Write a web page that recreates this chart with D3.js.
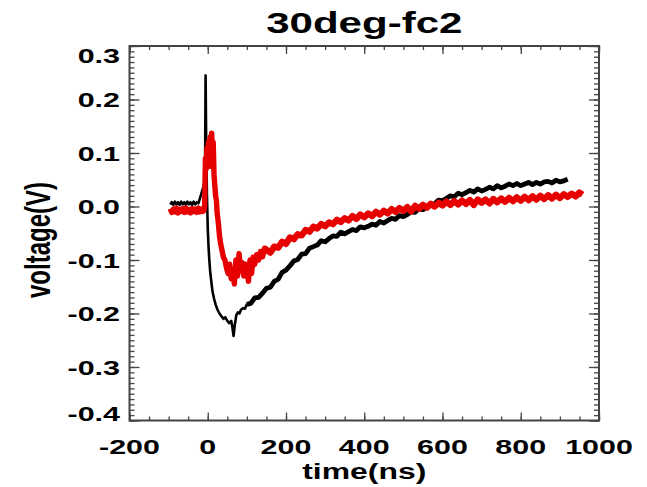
<!DOCTYPE html>
<html>
<head>
<meta charset="utf-8">
<script src="https://cdn.jsdelivr.net/npm/d3@7"></script>
<style>
  html, body { margin: 0; padding: 0; background: #fff; }
  text { font-family: "Liberation Sans", Arial, Helvetica, sans-serif; font-weight: bold; fill: #000; }
</style>
</head>
<body>
<div id="chart"></div>
<script>
// --- data ---
const titleText = '30deg-fc2';
const xLabelText = 'time(ns)';
const yLabelText = 'voltage(V)';

const xTickLabels = [-200, 0, 200, 400, 600, 800, 1000];
const yTickLabels = [0.3, 0.2, 0.1, 0.0, -0.1, -0.2, -0.3, -0.4];

// black trace
const blackTime = [-96, -92, -88, -84, -80, -76, -72, -68, -64, -60, -56, -52, -48, -44, -40, -36, -32, -28, -24, -20, -16, -12, -9, -7, -5.5, -4, -2, 0, 2, 4, 6, 9, 12, 16, 20, 25, 30, 35, 40, 45, 50, 55, 60, 63, 66, 69, 73, 77, 81, 85, 90, 95,
  100, 110, 120, 130, 140, 150, 160, 170, 180, 190, 200, 210, 220, 230, 240, 250, 260, 270, 280, 290,
  300, 310, 320, 330, 340, 350, 360, 370, 380, 390, 400, 410, 420, 430, 440, 450, 460, 470, 480, 490,
  500, 510, 520, 530, 540, 550, 560, 570, 580, 590, 600, 610, 620, 630, 640, 650, 660, 670, 680, 690,
  700, 710, 720, 730, 740, 750, 760, 770, 780, 790, 800, 810, 820, 830, 840, 850, 860, 870, 880, 890,
  900, 910, 920];
const blackVolt = [0.004, 0.008, 0.003, 0.009, 0.004, 0.008, 0.003, 0.009, 0.004, 0.008, 0.003, 0.009, 0.004, 0.008, 0.003, 0.009, 0.004, 0.008, 0.006, 0.015, 0.025, 0.035, 0.045, 0.055, 0.245, 0.12, 0.02, -0.04, -0.075, -0.1, -0.12, -0.14, -0.158, -0.172, -0.183, -0.193, -0.2, -0.205, -0.21, -0.207, -0.214, -0.218, -0.214, -0.226, -0.242, -0.222, -0.203, -0.198, -0.2, -0.193, -0.19, -0.191,
  -0.183, -0.181, -0.171, -0.17, -0.162, -0.153, -0.151, -0.14, -0.136, -0.123, -0.119, -0.111, -0.102, -0.099, -0.089, -0.088, -0.078, -0.075, -0.072, -0.064,
  -0.066, -0.06, -0.055, -0.056, -0.048, -0.051, -0.047, -0.043, -0.045, -0.038, -0.04, -0.037, -0.033, -0.035, -0.028, -0.031, -0.026, -0.022, -0.024, -0.017,
  -0.019, -0.015, -0.01, -0.011, -0.004, -0.006, -0.001, 0.004, 0.005, 0.012, 0.011, 0.015, 0.02, 0.018, 0.025, 0.022, 0.026, 0.03, 0.027, 0.033,
  0.029, 0.032, 0.036, 0.033, 0.039, 0.035, 0.038, 0.042, 0.039, 0.043, 0.039, 0.042, 0.045, 0.041, 0.045, 0.042, 0.046, 0.047, 0.044, 0.049,
  0.046, 0.048, 0.051];

// red trace
const redTime = [-96, -92, -88, -84, -80, -76, -72, -68, -64, -60, -56, -52, -48, -44, -40, -36, -32, -28, -24, -20, -16, -12, -9,
  -8, -6, -4, -2, 0, 2, 4, 6, 8, 10, 12, 14, 16, 18, 20, 22, 24, 27, 30, 33, 36, 40, 44, 48, 52, 56, 60, 64, 68, 72, 76, 80, 84, 88, 92, 96,
  100, 104, 108, 112, 116, 120, 125, 130, 135, 140, 145,
  150, 160, 170, 180, 190, 200, 210, 220, 230, 240, 250, 260, 270, 280, 290,
  300, 310, 320, 330, 340, 350, 360, 370, 380, 390, 400, 410, 420, 430, 440, 450, 460, 470, 480, 490,
  500, 510, 520, 530, 540, 550, 560, 570, 580, 590, 600, 610, 620, 630, 640, 650, 660, 670, 680, 690,
  700, 710, 720, 730, 740, 750, 760, 770, 780, 790, 800, 810, 820, 830, 840, 850, 860, 870, 880, 890,
  900, 910, 920, 930, 940, 950, 958];
const redVolt = [-0.004, -0.011, -0.005, -0.01, -0.003, -0.012, -0.005, -0.009, -0.004, -0.011, -0.003, -0.01, -0.006, -0.012, -0.004, -0.009, -0.005, -0.011, -0.003, -0.01, -0.005, -0.009, -0.006,
  0.0, 0.09, 0.07, 0.11, 0.08, 0.12, 0.09, 0.13, 0.075, 0.137, 0.1, 0.12, 0.06, 0.04, 0.02, 0.012, -0.012, -0.03, -0.055, -0.07, -0.08, -0.095, -0.1, -0.115, -0.125, -0.108, -0.135, -0.118, -0.145, -0.1, -0.13, -0.088, -0.12, -0.105, -0.13, -0.108,
  -0.118, -0.14, -0.1, -0.125, -0.095, -0.108, -0.09, -0.1, -0.084, -0.094, -0.078,
  -0.081, -0.086, -0.075, -0.077, -0.066, -0.07, -0.058, -0.061, -0.052, -0.054, -0.044, -0.047, -0.038, -0.041, -0.033,
  -0.037, -0.03, -0.033, -0.025, -0.029, -0.022, -0.026, -0.018, -0.023, -0.015, -0.02, -0.013, -0.018, -0.01, -0.015, -0.008, -0.013, -0.005, -0.01, -0.003,
  -0.008, -0.001, -0.009, 0.001, -0.004, 0.003, -0.002, 0.005, 0.0, 0.007, 0.002, 0.009, 0.003, 0.01, 0.004, 0.011, 0.005, 0.012, 0.003, 0.013,
  0.007, 0.013, 0.006, 0.014, 0.008, 0.015, 0.009, 0.016, 0.01, 0.017, 0.011, 0.018, 0.012, 0.019, 0.013, 0.02, 0.014, 0.021, 0.015, 0.022,
  0.016, 0.023, 0.018, 0.024, 0.019, 0.026, 0.022];

// --- layout ---
const W = 647, H = 487;
const plot = { left: 129.5, right: 599, top: 46, bottom: 420.5 };
const stretch = 1.45; // the picture's text is wide

const svg = d3.select('#chart').append('svg').attr('width', W).attr('height', H);

const x = d3.scaleLinear().domain([-200, 1000]).range([plot.left, plot.right]);
const y = d3.scaleLinear().domain([-0.4, 0.3]).range([plot.bottom, plot.top]);

// traces (black is thin near the trigger, a wider noisy band later)
const line = d3.line()
  .x((d) => x(d[0]))
  .y((d) => y(d[1]));

const pairs = (t, v) => t.map((d, i) => [d, v[i]]);
const blackPts = pairs(blackTime, blackVolt);
const redPts = pairs(redTime, redVolt);

const segments = [
  { pts: blackPts.filter((d) => d[0] <= 110), color: '#000', width: 2.6 },
  { pts: blackPts.filter((d) => d[0] >= 100), color: '#000', width: 4.8 },
  { pts: redPts.filter((d) => d[0] <= 150), color: '#e60000', width: 5.4 },
  { pts: redPts.filter((d) => d[0] >= 145), color: '#e60000', width: 6.4 },
];
svg.append('g')
  .selectAll('path')
  .data(segments)
  .enter()
  .append('path')
  .attr('d', (d) => line(d.pts))
  .attr('fill', 'none')
  .attr('stroke', (d) => d.color)
  .attr('stroke-width', (d) => d.width)
  .attr('stroke-linejoin', 'round');

// ticks on all four sides, pointing inward
const axisColor = '#444';
const addAxis = (axis, tx, ty) => {
  svg.append('g')
    .attr('transform', `translate(${tx},${ty})`)
    .call(axis)
    .call((g) => g.select('.domain').remove())
    .call((g) => g.selectAll('line').attr('stroke', axisColor).attr('stroke-width', 1.3));
};
const xMinor = d3.range(-200, 1001, 50);
const yMinor = d3.range(-40, 31, 1).map((d) => d / 100);

addAxis(d3.axisBottom(x).tickValues(xMinor).tickSize(-4).tickFormat(''), 0, plot.bottom);
addAxis(d3.axisBottom(x).tickValues(xTickLabels).tickSize(-8).tickFormat(''), 0, plot.bottom);
addAxis(d3.axisTop(x).tickValues(xMinor).tickSize(-4).tickFormat(''), 0, plot.top);
addAxis(d3.axisTop(x).tickValues(xTickLabels).tickSize(-8).tickFormat(''), 0, plot.top);
addAxis(d3.axisLeft(y).tickValues(yMinor).tickSize(-5).tickFormat(''), plot.left, 0);
addAxis(d3.axisLeft(y).tickValues(yTickLabels).tickSize(-10).tickFormat(''), plot.left, 0);
addAxis(d3.axisRight(y).tickValues(yMinor).tickSize(-5).tickFormat(''), plot.right, 0);
addAxis(d3.axisRight(y).tickValues(yTickLabels).tickSize(-10).tickFormat(''), plot.right, 0);

// frame
svg.append('rect')
  .attr('x', plot.left)
  .attr('y', plot.top)
  .attr('width', plot.right - plot.left)
  .attr('height', plot.bottom - plot.top)
  .attr('fill', 'none')
  .attr('stroke', axisColor)
  .attr('stroke-width', 2);

// tick labels
svg.append('g')
  .selectAll('text')
  .data(xTickLabels)
  .enter()
  .append('text')
  .attr('transform', (d) => `translate(${x(d)},454) scale(${stretch},1)`)
  .attr('text-anchor', 'middle')
  .style('font-size', '21px')
  .text((d) => d);

svg.append('g')
  .selectAll('text')
  .data(yTickLabels)
  .enter()
  .append('text')
  .attr('transform', (d) => {
    const py = Math.min(Math.max(y(d), plot.top + 9), plot.bottom - 7);
    return `translate(120,${py + 7.5}) scale(${stretch},1)`;
  })
  .attr('text-anchor', 'end')
  .style('font-size', '21px')
  .text((d) => d.toFixed(1));

// titles
svg.append('text')
  .attr('transform', `translate(${(plot.left + plot.right) / 2},33) scale(${stretch},1)`)
  .attr('text-anchor', 'middle')
  .style('font-size', '29px')
  .text(titleText);

svg.append('text')
  .attr('transform', `translate(${(plot.left + plot.right) / 2},479) scale(${stretch},1)`)
  .attr('text-anchor', 'middle')
  .style('font-size', '22px')
  .text(xLabelText);

svg.append('text')
  .attr('transform', `translate(50,240) scale(${stretch},1) rotate(-90)`)
  .attr('text-anchor', 'middle')
  .style('font-size', '24px')
  .text(yLabelText);
</script>
</body>
</html>
